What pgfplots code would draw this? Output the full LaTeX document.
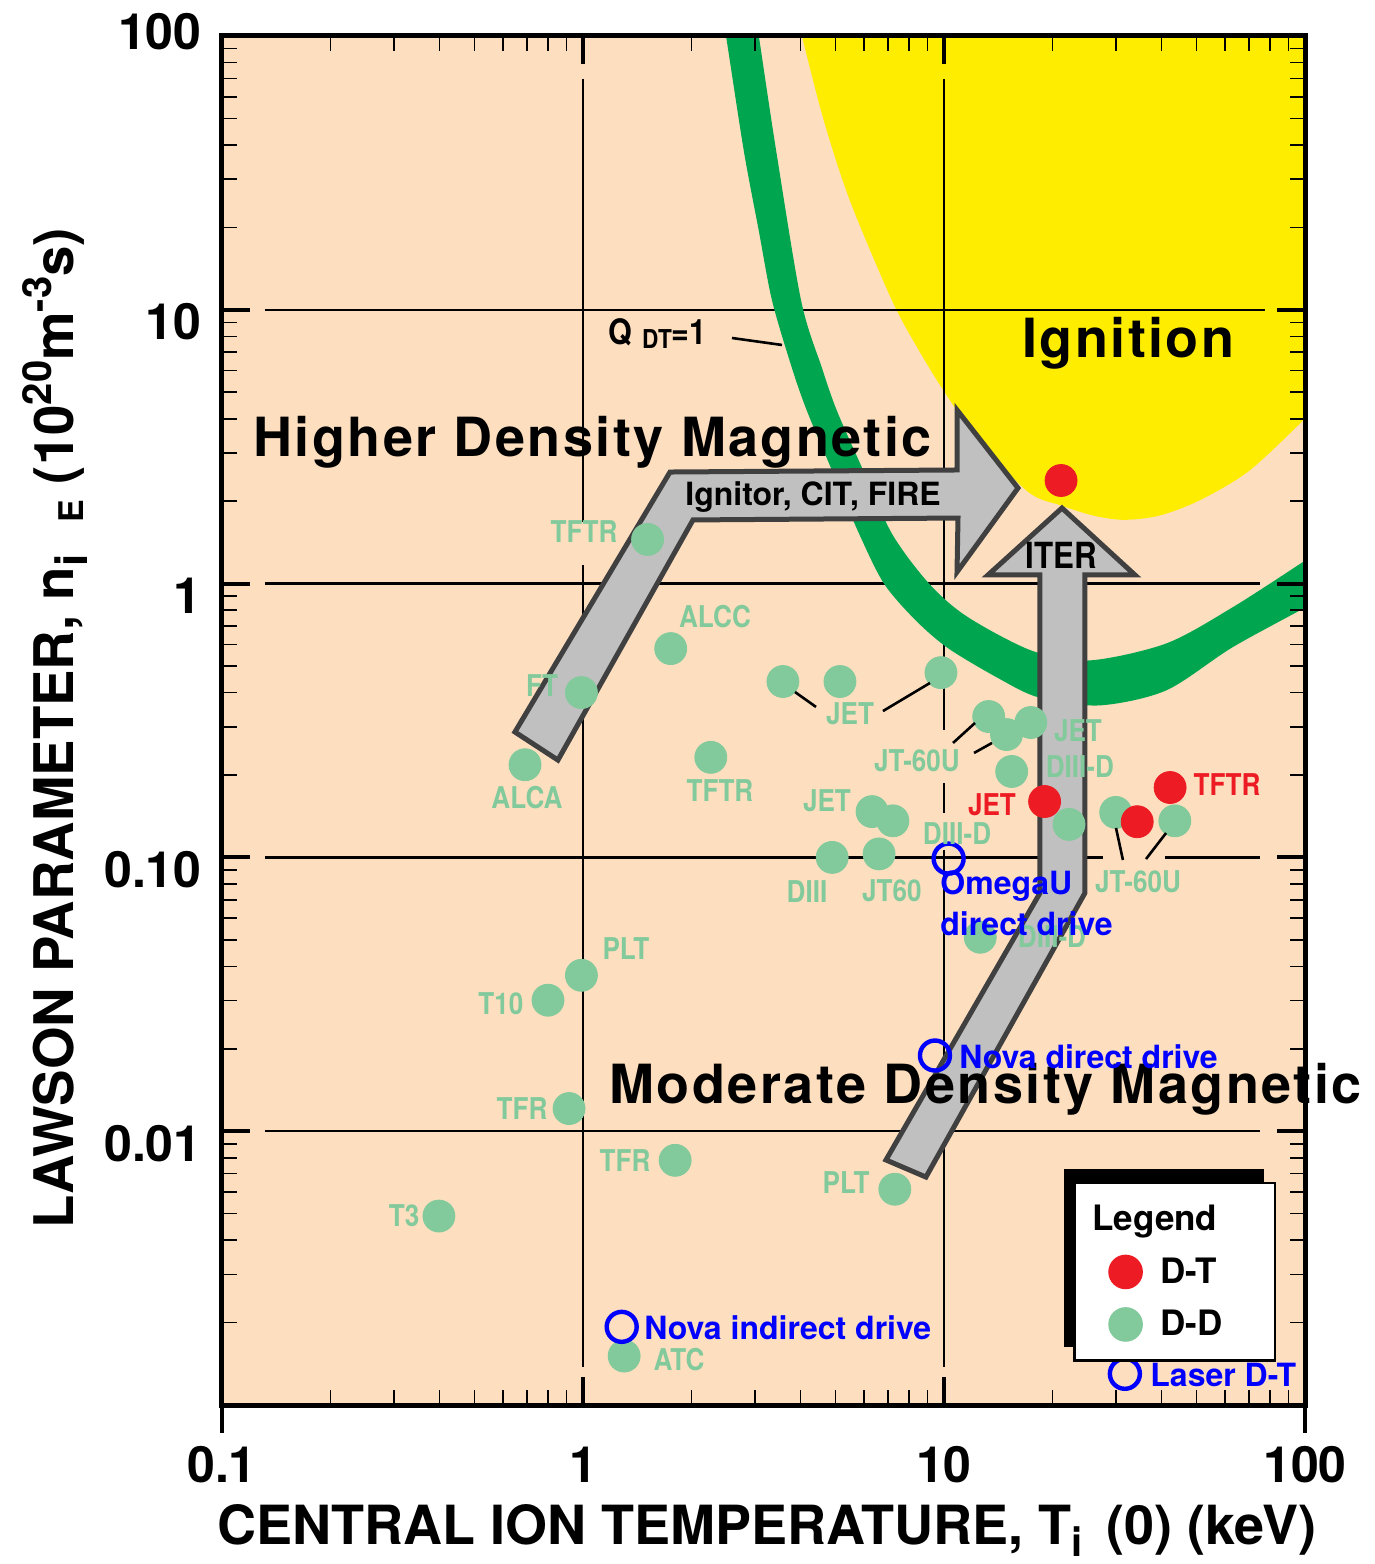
\documentclass[border=0pt]{standalone}
\usepackage{fontspec}
\setmainfont{TeX Gyre Heros}
\newfontfamily\heroscn{TeX Gyre Heros}[FakeStretch=0.87]
\newfontfamily\herossp{TeX Gyre Heros}[LetterSpace=4.5]
\usepackage{pgfplots}
\pgfplotsset{compat=1.18}
\usetikzlibrary{shadows}

\definecolor{peach}{RGB}{253,223,191}
\definecolor{ignyellow}{RGB}{255,237,0}
\definecolor{bandgreen}{RGB}{0,165,80}
\definecolor{ddgreen}{RGB}{130,202,156}
\definecolor{dtred}{RGB}{237,28,36}
\definecolor{laserblue}{RGB}{0,0,255}
\definecolor{arrowgray}{RGB}{192,192,192}
\definecolor{arrowdark}{RGB}{64,64,64}

\newcommand\ticfont{\fontsize{25}{25}\selectfont\bfseries}
\newcommand\xlabfont{\fontsize{27}{27}\selectfont\bfseries}
\newcommand\ylabfont{\fontsize{27.3}{27.3}\selectfont\bfseries}
\newcommand\glab{\heroscn\bfseries\fontsize{15}{15}\selectfont}
\newcommand\blab{\bfseries\fontsize{16}{16}\selectfont}
\newcommand\bigtxt{\herossp\bfseries\fontsize{27}{27}\selectfont}
\newcommand\legfont{\bfseries\fontsize{17.5}{17.5}\selectfont}

\tikzset{
  glabel/.style={font=\glab, text=ddgreen, inner sep=0pt},
  rlabel/.style={font=\glab, text=dtred, inner sep=0pt},
  blabel/.style={font=\blab, text=laserblue, inner sep=0pt, anchor=west},
  leader/.style={line width=1.3pt, black},
  arrowbox/.style={fill=arrowgray, draw=arrowdark, line width=2.5pt, line join=miter},
}

\begin{document}
\begin{tikzpicture}
\path[use as bounding box] (-111pt,-79.5pt) rectangle (576.5pt,702.5pt);
\begin{axis}[
  at={(0,0)}, anchor=south west,
  scale only axis, width=541.5pt, height=684.5pt,
  xmode=log, ymode=log,
  xmin=0.1, xmax=100, ymin=0.001, ymax=100,
  xtick={0.1,1,10,100}, xticklabels={0.1,1,10,100},
  ytick={0.01,0.1,1,10,100}, yticklabels={0.01,0.10,1,10,{}},
  minor xtick={0.2,0.3,0.4,0.5,0.6,0.7,0.8,0.9,2,3,4,5,6,7,8,9,20,30,40,50,60,70,80,90},
  minor ytick={0.002,0.003,0.004,0.005,0.006,0.007,0.008,0.009,
               0.02,0.03,0.04,0.05,0.06,0.07,0.08,0.09,
               0.2,0.3,0.4,0.5,0.6,0.7,0.8,0.9,2,3,4,5,6,7,8,9,
               20,30,40,50,60,70,80,90},
  tick label style={font=\ticfont},
  xticklabel style={anchor=center, yshift=-30pt},
  yticklabel style={anchor=east, inner sep=0pt, xshift=-10pt, yshift=-6pt},
  major tick length=14pt, minor tick length=7.5pt,
  major tick style={line width=2pt, black},
  minor tick style={line width=0.8pt, black},
  axis line style={line width=2.5pt},
  axis background/.style={fill=peach},
  axis on top,
  clip mode=individual,
  xlabel={CENTRAL ION TEMPERATURE, T\raisebox{-6pt}{\fontsize{20}{20}\selectfont i}\hspace{12pt}(0) (keV)},
  ylabel={LAWSON PARAMETER, n\raisebox{-7pt}{\fontsize{22}{22}\selectfont i}\hspace{16pt}\raisebox{-5pt}{\fontsize{17}{17}\selectfont E}\hspace{8pt}(10\raisebox{11pt}{\fontsize{20}{20}\selectfont 20}m\raisebox{11pt}{\fontsize{20}{20}\selectfont -3}s)},
  xlabel style={font=\xlabfont, at={(axis description cs:0.503,-0.0915)}, anchor=center},
  ylabel style={font=\ylabfont, at={(axis description cs:-0.1542,0.4945)}, anchor=center},
  legend style={at={(axis description cs:0.786,0.163)}, anchor=north west,
    draw=black, line width=1.3pt, fill=white, font=\legfont,
    inner xsep=17pt, inner ysep=9pt, row sep=8pt, /tikz/column sep=7.5pt,
    cells={anchor=west},
    drop shadow={shadow xshift=-5.5pt, shadow yshift=7pt, fill=black, opacity=1}},
]

% legend entries first; all real plots use forget plot
\addlegendimage{empty legend}
\addlegendentry{\hspace*{-34pt}Legend}
\addlegendimage{only marks, mark=*, mark size=8pt, color=dtred}
\addlegendentry{D-T\hspace*{7pt}}
\addlegendimage{only marks, mark=*, mark size=8pt, color=ddgreen}
\addlegendentry{D-D\hspace*{7pt}}

% ignition region
\addplot[forget plot, draw=none, fill=ignyellow, smooth] coordinates {
  (3.72,158) (4.04,100) (4.65,48.9) (5.49,25.0) (7.18,10.8) (8.53,7.09)
  (10.1,4.94) (12.66,3.24) (17.2,2.15) (21.1,1.93) (26.0,1.77)
  (31.5,1.71) (39.4,1.77) (50.9,2.01) (70.0,2.58) (100,4.0) (124,5.28)
} -- (axis cs:124,158) -- cycle;

% grid lines with their gaps
\draw[line width=1.2pt] (rel axis cs:0.0397,0.8) -- (rel axis cs:0.963,0.8);
\draw[line width=1.2pt] (rel axis cs:0.0397,0.6) -- (rel axis cs:0.958,0.6);
\draw[line width=1.2pt] (rel axis cs:0.0397,0.4) -- (rel axis cs:0.8135,0.4);
\draw[line width=1.2pt] (rel axis cs:0.8707,0.4) -- (rel axis cs:0.958,0.4);
\draw[line width=1.2pt] (rel axis cs:0.0397,0.2) -- (rel axis cs:0.958,0.2);
\draw[line width=1.2pt] (rel axis cs:0.33333,0.9686) -- (rel axis cs:0.33333,0.6450);
\draw[line width=1.2pt] (rel axis cs:0.33333,0.6136) -- (rel axis cs:0.33333,0.0278);
\draw[line width=1.2pt] (rel axis cs:0.66667,0.9686) -- (rel axis cs:0.66667,0.4931);
\draw[line width=1.2pt] (rel axis cs:0.66667,0.4543) -- (rel axis cs:0.66667,0.4324);
\draw[line width=1.2pt] (rel axis cs:0.66667,0.4054) -- (rel axis cs:0.66667,0.0278);

% Q_DT = 1 band: outer edge, then inner edge back
\addplot[forget plot, draw=none, fill=bandgreen, smooth] coordinates {
  (2.35,158) (2.49,100) (2.79,38.0) (3.07,19.4) (3.34,10.8) (3.79,6.14)
  (4.17,4.28) (4.86,2.65) (5.82,1.52) (6.82,1.0) (8.36,0.733)
  (10.3,0.579) (14.2,0.450) (18.3,0.384) (26.9,0.359) (41.2,0.407)
  (62.8,0.584) (100,0.817) (124,0.96)
  (124,1.47) (100,1.213) (62.8,0.817) (41.2,0.604) (25.2,0.524)
  (17.5,0.569) (11.58,0.758) (9.09,1.0) (7.18,1.52) (5.93,2.65)
  (5.05,4.28) (4.59,6.14) (4.02,10.8) (3.43,38.0) (3.07,100) (2.92,158)
} -- cycle;

% region titles
\node[font=\bigtxt, anchor=base west, inner sep=0pt] at (rel axis cs:0.0286,0.6925) {Higher Density Magnetic};
\node[font=\bigtxt, anchor=base west, inner sep=0pt] at (rel axis cs:0.7387,0.7648) {Ignition};
\node[anchor=base west, inner sep=0pt, font=\heroscn\bfseries\fontsize{17.5}{17.5}\selectfont] at (rel axis cs:0.3564,0.7743)
  {Q\hspace{5pt}\raisebox{-2pt}{\fontsize{13}{13}\selectfont DT}=1};
\draw[leader] (rel axis cs:0.4709,0.7794) -- (rel axis cs:0.5171,0.7743);

% arrows
\draw[arrowbox] (rel axis cs:0.2705,0.4916) -- (rel axis cs:0.4137,0.6815)
  -- (rel axis cs:0.6787,0.6830) -- (rel axis cs:0.6787,0.7268)
  -- (rel axis cs:0.7350,0.6698) -- (rel axis cs:0.6787,0.6085)
  -- (rel axis cs:0.6796,0.6479) -- (rel axis cs:0.4349,0.6465)
  -- (rel axis cs:0.3102,0.4711) -- cycle;
\draw[arrowbox] (rel axis cs:0.6131,0.1790) -- (rel axis cs:0.7553,0.3740)
  -- (rel axis cs:0.7553,0.6063) -- (rel axis cs:0.7073,0.6063)
  -- (rel axis cs:0.7756,0.6552) -- (rel axis cs:0.8430,0.6063)
  -- (rel axis cs:0.7968,0.6063) -- (rel axis cs:0.7968,0.3740)
  -- (rel axis cs:0.6500,0.1665) -- cycle;
\node[anchor=base west, inner sep=0pt, font=\bfseries\fontsize{16}{16}\selectfont] at (rel axis cs:0.4275,0.6574) {Ignitor, CIT, FIRE};
\node[anchor=base, inner sep=0pt, font=\heroscn\bfseries\fontsize{18}{18}\selectfont] at (rel axis cs:0.7747,0.6107) {ITER};

% D-D experiments
\addplot[forget plot, only marks, mark=*, mark size=8pt, color=ddgreen] coordinates {
  (1.51,1.45) (1.75,0.579) (0.99,0.40) (0.691,0.218) (2.26,0.232)
  (3.58,0.439) (5.15,0.439) (9.81,0.473) (13.3,0.327) (14.9,0.281)
  (17.4,0.311) (15.4,0.206) (6.32,0.147) (7.22,0.136) (4.90,0.100)
  (6.61,0.103) (22.2,0.132) (29.9,0.146) (43.6,0.136) (12.6,0.0511)
  (0.99,0.0371) (0.80,0.0301) (0.915,0.0121) (1.80,0.00783)
  (7.31,0.00614) (0.399,0.0049) (1.30,0.00151)
};
% D-T experiments
\addplot[forget plot, only marks, mark=*, mark size=8pt, color=dtred] coordinates {
  (21.1,2.38) (19.0,0.160) (42.3,0.180) (34.3,0.135)
};
% laser D-T
\addplot[forget plot, only marks, mark=o, mark size=7.5pt, line width=2.2pt, color=laserblue] coordinates {
  (10.3,0.099) (9.44,0.0189) (1.28,0.00193) (31.7,0.0013)
};

% experiment names
\node[glabel] at (rel axis cs:0.3343,0.6377) {TFTR};
\node[glabel] at (rel axis cs:0.4552,0.5756) {ALCC};
\node[glabel] at (rel axis cs:0.2955,0.5252) {FT};
\node[glabel] at (rel axis cs:0.2816,0.4434) {ALCA};
\node[glabel] at (rel axis cs:0.4598,0.4485) {TFTR};
\node[glabel] at (rel axis cs:0.5799,0.5047) {JET};
\node[glabel] at (rel axis cs:0.6417,0.4704) {JT-60U};
\node[glabel] at (rel axis cs:0.7904,0.4923) {JET};
\node[glabel] at (rel axis cs:0.7922,0.4660) {DIII-D};
\node[glabel] at (rel axis cs:0.5586,0.4412) {JET};
\node[glabel] at (rel axis cs:0.6787,0.4171) {DIII-D};
\node[glabel] at (rel axis cs:0.5402,0.3747) {DIII};
\node[glabel] at (rel axis cs:0.6186,0.3755) {JT60};
\node[glabel] at (rel axis cs:0.8458,0.3820) {JT-60U};
\node[glabel] at (rel axis cs:0.7664,0.3419) {DIII-D};
\node[glabel] at (rel axis cs:0.3730,0.3331) {PLT};
\node[glabel] at (rel axis cs:0.2576,0.2929) {T10};
\node[glabel] at (rel axis cs:0.2770,0.2162) {TFR};
\node[glabel] at (rel axis cs:0.3721,0.1782) {TFR};
\node[glabel] at (rel axis cs:0.5762,0.1622) {PLT};
\node[glabel] at (rel axis cs:0.1681,0.1381) {T3};
\node[glabel] at (rel axis cs:0.4220,0.0329) {ATC};
\node[rlabel] at (rel axis cs:0.7110,0.4383) {JET};
\node[rlabel] at (rel axis cs:0.9280,0.4529) {TFTR};

\draw[leader] (rel axis cs:0.5291,0.5208) -- (rel axis cs:0.5485,0.5099);
\draw[leader] (rel axis cs:0.6103,0.5069) -- (rel axis cs:0.6537,0.5274);
\draw[leader] (rel axis cs:0.6750,0.4836) -- (rel axis cs:0.6953,0.4982);
\draw[leader] (rel axis cs:0.6944,0.4763) -- (rel axis cs:0.7110,0.4836);
\draw[leader] (rel axis cs:0.8255,0.4215) -- (rel axis cs:0.8319,0.3981);
\draw[leader] (rel axis cs:0.8717,0.4178) -- (rel axis cs:0.8532,0.3988);

\node[font=\bigtxt, anchor=base west, inner sep=0pt] at (rel axis cs:0.3573,0.2199) {Moderate Density Magnetic};

\node[blabel] at (rel axis cs:0.6630,0.3791) {OmegaU};
\node[blabel] at (rel axis cs:0.6630,0.3514) {direct drive};
\node[blabel] at (rel axis cs:0.6805,0.2542) {Nova direct drive};
\node[blabel] at (rel axis cs:0.3897,0.0562) {Nova indirect drive};
\node[blabel] at (rel axis cs:0.8569,0.0219) {Laser D-T};

% top y tick label and the outer end ticks of the x axis
\node[font=\ticfont, anchor=east, inner sep=0pt] at ([xshift=-10pt,yshift=2pt]rel axis cs:0,1) {100};
\draw[line width=2pt] (rel axis cs:0,0) -- ([yshift=-14pt]rel axis cs:0,0);
\draw[line width=2pt] (rel axis cs:1,0) -- ([yshift=-14pt]rel axis cs:1,0);
\end{axis}
\end{tikzpicture}
\end{document}
